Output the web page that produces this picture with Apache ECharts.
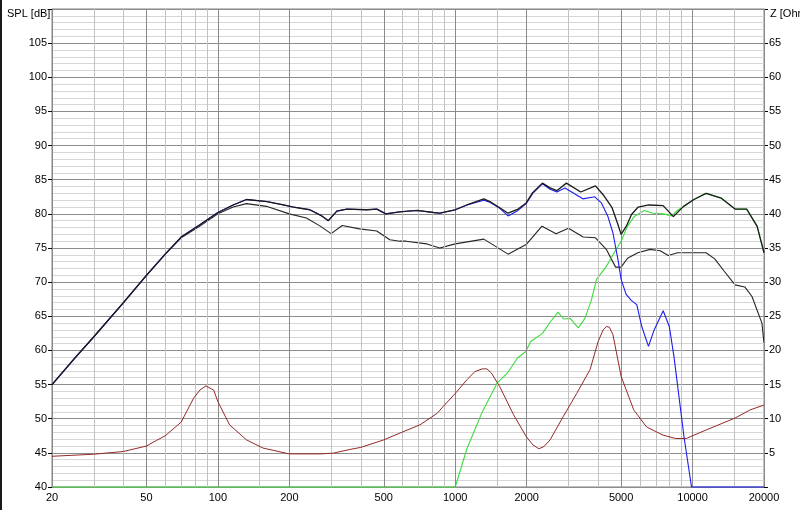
<!DOCTYPE html>
<html><head><meta charset="utf-8">
<script src="https://cdn.jsdelivr.net/npm/echarts@6/dist/echarts.min.js"></script>
<style>html,body{margin:0;padding:0;background:#fff}#c{width:800px;height:510px}</style>
</head><body><div id="c"></div><script>
// ---- data ----
const sumFreq = [20,25,30,40,50,60,70,84,100,116,132,161,189,208,244,274,292,317,350,424,467,510,585,690,810,860,1000,1120,1320,1400,1540,1670,1840,1990,2120,2330,2510,2680,2940,3380,3900,4200,4580,4820,5000,5260,5530,5900,6540,7520,8300,9170,10130,11400,13220,15100,16900,18700,20000];
const sumSpl  = [55.0,58.9,62.0,67.0,71.0,74.1,76.6,78.4,80.2,81.3,82.1,81.8,81.3,81.0,80.6,79.7,79.0,80.4,80.7,80.6,80.7,80.0,80.3,80.5,80.2,80.1,80.6,81.3,82.2,81.8,80.9,80.1,80.7,81.6,83.1,84.5,83.8,83.4,84.5,83.2,84.1,82.8,80.9,78.7,77.0,78.2,79.9,81.0,81.3,81.2,79.6,81.1,82.1,83.0,82.3,80.7,80.7,78.2,74.3];

const lowerFreq = [20,25,30,40,50,60,70,84,100,116,132,160,200,236,270,300,334,395,467,530,585,620,760,860,1000,1320,1670,1990,2320,2660,3000,3460,3900,4330,4740,5000,5320,5880,6620,7300,7900,8650,10130,11400,12400,13600,15100,16600,17800,19600,20000];
const lowerSpl  = [55.0,58.9,62.0,67.0,71.0,74.1,76.5,78.2,80.0,81.0,81.5,81.1,80.0,79.4,78.2,77.1,78.3,77.8,77.5,76.2,76.0,76.0,75.6,75.0,75.6,76.3,74.1,75.5,78.2,77.1,77.9,76.6,76.5,74.8,72.2,72.2,73.5,74.3,74.8,74.6,73.9,74.3,74.3,74.3,73.4,71.6,69.6,69.3,67.9,64.0,61.1];

const wooferFreq = [20,25,30,40,50,60,70,84,100,116,132,161,189,208,244,274,292,317,350,424,467,510,585,690,810,860,1000,1120,1320,1400,1540,1670,1840,1990,2120,2330,2510,2680,2900,3450,3870,4130,4400,4620,4850,5000,5250,5530,5820,6110,6520,6890,7520,7980,8350,9200,9900,20000];
const wooferSpl  = [55.0,58.9,62.0,67.0,71.0,74.1,76.6,78.4,80.2,81.3,82.1,81.8,81.3,81.0,80.6,79.7,79.0,80.4,80.7,80.6,80.7,80.0,80.3,80.5,80.2,80.1,80.6,81.3,82.0,81.7,80.8,79.7,80.5,81.5,83.0,84.4,83.6,83.2,83.8,82.2,82.5,81.6,79.6,77.2,73.3,70.4,68.2,67.3,66.7,63.5,60.6,63.0,65.8,63.5,59.1,47.4,40.0,40.0];

const tweeterFreq = [20,1000,1120,1300,1500,1660,1830,1980,2080,2330,2520,2710,2860,3050,3300,3520,3750,3940,4330,4620,5000,5320,5680,6260,6800,7520,8150,8700,9170,10130,11400,13220,15100,16900,18700,20000];
const tweeterSpl  = [40.0,40.0,45.6,51.0,55.2,56.7,58.9,59.8,61.3,62.5,64.2,65.6,64.6,64.7,63.3,64.7,67.4,70.4,72.3,74.0,76.0,78.2,79.6,80.5,80.1,80.0,79.7,80.6,81.1,82.1,83.0,82.3,80.7,80.7,78.2,74.3];

const impFreq = [20,30,40,50,55,60,70,79,84,89,96,100,112,132,155,200,270,306,360,400,500,585,710,840,890,1000,1120,1210,1300,1360,1420,1540,1760,1990,2120,2250,2360,2510,2850,3250,3700,4000,4200,4330,4460,4620,5000,5650,6400,7500,8500,9400,11500,15100,17500,20000];
const impOhm  = [4.5,4.8,5.2,6.0,6.8,7.5,9.5,13.0,14.2,14.8,14.2,12.5,9.1,6.9,5.7,4.85,4.85,4.95,5.5,5.8,6.9,7.9,9.1,10.8,11.8,13.7,15.7,16.9,17.3,17.3,16.7,14.7,10.6,7.4,6.2,5.6,5.9,6.9,10.3,13.7,17.2,21.3,23.0,23.5,23.4,22.3,16.2,11.3,8.8,7.6,7.1,7.1,8.4,10.1,11.3,12.0];

const freqLabels = [20,50,100,200,500,1000,2000,5000,10000,20000];
const freqMinor  = [30,40,60,70,80,90,150,300,400,600,700,800,900,1500,3000,4000,6000,7000,8000,9000,15000];

const pairs = (xs, ys) => xs.map((x, i) => [x, ys[i]]);
const FONT = 'Liberation Sans';

const chart = echarts.init(document.getElementById('c'), null, {renderer: 'canvas'});
const lineBase = {type: 'line', showSymbol: false, symbol: 'none', clip: false, smooth: false, animation: false, silent: true};

function gridSeries(freqs, color, withLabel) {
  return {
    type: 'line', data: [[20, 40]], showSymbol: false, symbol: 'none', color: color,
    lineStyle: {opacity: 0}, silent: true, z: 1, animation: false,
    markLine: {
      silent: true, symbol: 'none', animation: false, precision: 0,
      lineStyle: {color: color, width: 1, type: 'solid', opacity: 1},
      label: withLabel
        ? {show: true, position: 'start', distance: 5, fontFamily: FONT, fontSize: 11, color: '#000', formatter: p => String(p.value)}
        : {show: false},
      emphasis: {disabled: true},
      data: freqs.map(f => ({xAxis: f}))
    }
  };
}

chart.setOption({
  backgroundColor: '#ffffff',
  animation: false,
  grid: {left: 52, right: 36, top: 9, bottom: 23, show: true, borderColor: '#808080', borderWidth: 1, backgroundColor: '#ffffff'},
  xAxis: {
    type: 'log', logBase: 10, min: 20, max: 20000,
    axisLabel: {show: false}, axisTick: {show: false}, splitLine: {show: false}, axisLine: {show: false},
    minorTick: {show: false}, minorSplitLine: {show: false}
  },
  yAxis: [
    {
      type: 'value', min: 40, max: 110, interval: 5, position: 'left',
      axisLine: {show: true, lineStyle: {color: '#808080'}},
      axisTick: {show: true, length: 4, lineStyle: {color: '#000'}},
      axisLabel: {fontFamily: FONT, fontSize: 11, color: '#000', margin: 5,
        formatter: v => (v === 110 ? '' : String(v))},
      splitLine: {show: true, lineStyle: {color: '#8c8c8c', width: 1}},
      minorTick: {show: false, splitNumber: 5},
      minorSplitLine: {show: true, lineStyle: {color: '#d6d6d6', width: 1}}
    },
    {
      type: 'value', min: 0, max: 70, interval: 5, position: 'right',
      axisLine: {show: true, lineStyle: {color: '#808080'}},
      axisTick: {show: true, length: 4, lineStyle: {color: '#000'}},
      axisLabel: {fontFamily: FONT, fontSize: 11, color: '#000', margin: 5,
        formatter: v => (v === 0 || v === 70 ? '' : String(v))},
      splitLine: {show: false}
    }
  ],
  graphic: [
    {type: 'rect', left: 0, top: 0, shape: {width: 2, height: 510}, style: {fill: '#1a1a1a'}},
    {type: 'text', left: 7, top: 8, style: {text: 'SPL [dB]', font: '11px "Liberation Sans"', fill: '#000'}},
    {type: 'text', left: 770, top: 8, style: {text: 'Z [Ohm]', font: '11px "Liberation Sans"', fill: '#000'}}
  ],
  series: [
    gridSeries(freqMinor, '#c2c2c2', false),
    gridSeries(freqLabels, '#8a8a8a', true),
    Object.assign({}, lineBase, {name: 'SPL 2', data: pairs(lowerFreq, lowerSpl), yAxisIndex: 0, z: 3, lineStyle: {color: '#262626', width: 1.1}}),
    Object.assign({}, lineBase, {name: 'Hochtöner', data: pairs(tweeterFreq, tweeterSpl), yAxisIndex: 0, z: 4, lineStyle: {color: '#3cdc3c', width: 1.1}}),
    Object.assign({}, lineBase, {name: 'Tieftöner', data: pairs(wooferFreq, wooferSpl), yAxisIndex: 0, z: 5, lineStyle: {color: '#1c1cf0', width: 1.1}}),
    Object.assign({}, lineBase, {name: 'Summe', data: pairs(sumFreq, sumSpl), yAxisIndex: 0, z: 6, lineStyle: {color: '#1a1a1a', width: 1.3}}),
    Object.assign({}, lineBase, {name: 'Impedanz', data: pairs(impFreq, impOhm), yAxisIndex: 1, z: 7, lineStyle: {color: '#962828', width: 1}})
  ]
});
</script></body></html>
